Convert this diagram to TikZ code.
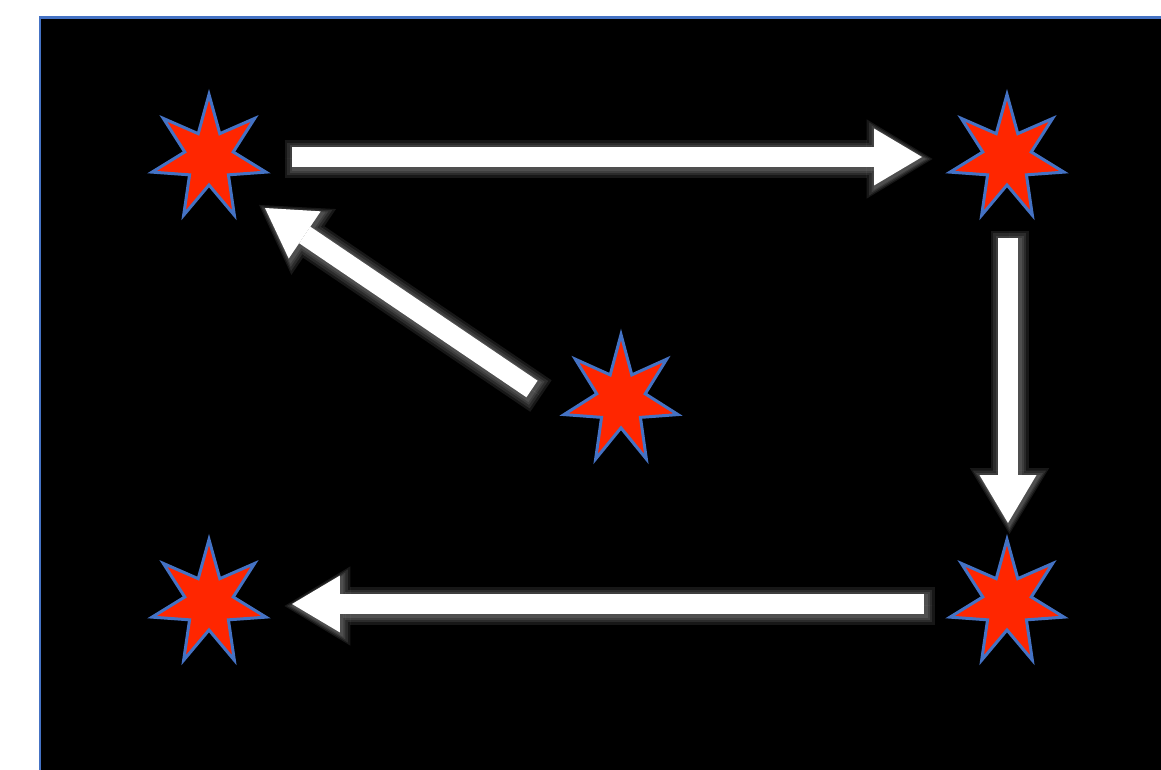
\documentclass[tikz,border=0pt]{standalone}
\usepackage{tikz}
\usetikzlibrary{shapes.geometric,arrows.meta,calc}
\definecolor{starred}{RGB}{255,38,0}
\definecolor{edgeblue}{RGB}{68,114,196}

\begin{document}
\begin{tikzpicture}[x=0.02cm,y=-0.02cm,
    spark/.style={star,star points=7,star point ratio=2.35,minimum size=2.54cm,xscale=0.92,
                  inner sep=0pt,fill=starred,draw=edgeblue,line width=0.06cm},
    % soft white halo round each block arrow, #1 = extra size in px
    glowline/.style={draw=white,fill=white,opacity=0.09,line width=0.4cm+0.04cm*#1,
                     shorten <=-0.02cm*#1,shorten >=-0.02cm*#1,
                     -{Triangle[length=0.96cm+0.04cm*#1,width=1.14cm+0.05cm*#1,line width=0pt]},
                     transform canvas={xshift=0.03cm,yshift=-0.04cm}},
    blockarr/.style={-{Triangle[length=0.96cm,width=1.14cm,line width=0pt]},white,
                     line width=0.4cm,
                     preaction={glowline=9},
                     preaction={glowline=6.5},
                     preaction={glowline=4},
                     preaction={glowline=2}}
  ]
    \useasboundingbox (0,0) rectangle (1161,770);
    \fill[white] (0,0) rectangle (1161,770);
    \filldraw[fill=black,draw=edgeblue,line width=0.06cm] (40,18) rectangle (1175,785);

    \node[spark] (tl) at (209,158) {};
    \node[spark] (tr) at (1007,158) {};
    \node[spark] (bl) at (209,603) {};
    \node[spark] (br) at (1007,603) {};
    \node[spark,minimum size=2.62cm,xscale=0.97] (mid) at (621,400) {};

    \draw[blockarr] ($(tl)+(83,-1)$) -- ($(tr)+(-85,-1)$);
    \draw[blockarr] ($(tr)+(1,80)$) -- ($(br)+(1,-80)$);
    \draw[blockarr] ($(br)+(-83,1)$) -- ($(bl)+(83,1)$);
    \draw[blockarr] ($(mid)+(-89,-11)$) -- ($(tl)+(56,50)$);
\end{tikzpicture}
\end{document}
